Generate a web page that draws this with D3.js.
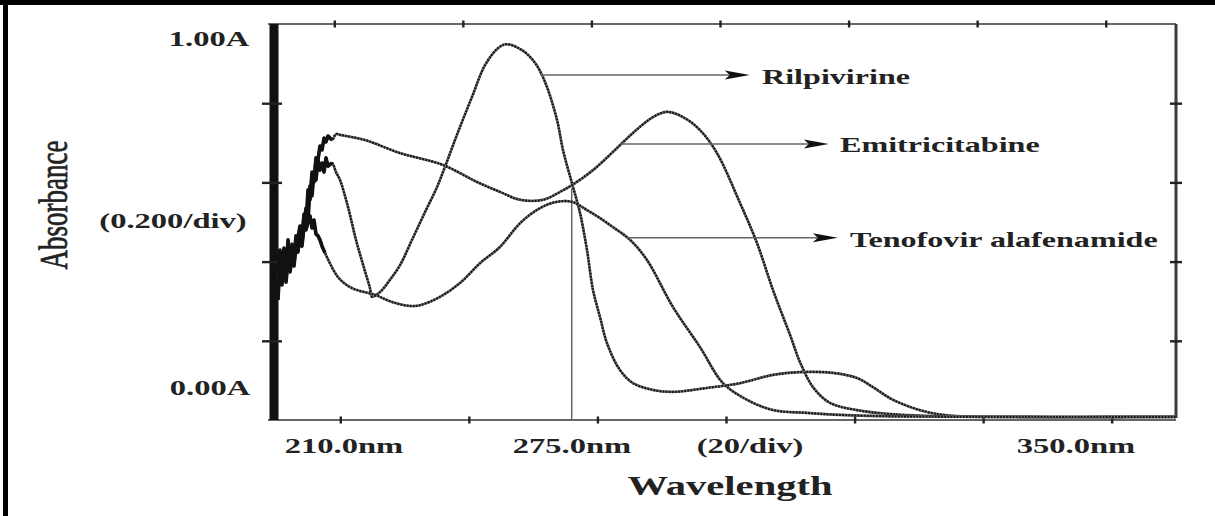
<!DOCTYPE html>
<html>
<head>
<meta charset="utf-8">
<script src="https://cdn.jsdelivr.net/npm/d3@7/dist/d3.min.js"></script>
<style>
  html, body { margin: 0; padding: 0; background: #fff; }
  svg { display: block; }
  text { font-family: "Liberation Serif", "Times New Roman", serif; fill: #222; }
</style>
</head>
<body>
<div id="chart"></div>
<script>
// axis ticks (20 nm / div, 0.200 A / div)
const wlTicks = [200, 220, 240, 260, 280, 300, 320];
const absTicks = [0.2, 0.4, 0.6, 0.8];

// printed tick labels of the instrument plot
const xLabels = ["210.0nm", "275.0nm", "(20/div)", "350.0nm"];
const yLabels = ["1.00A", "(0.200/div)", "0.00A"];

// spectra: [wavelength nm, absorbance]
const rilpivirine = [
    [190.31, 0.354], [190.62, 0.429], [190.93, 0.364], [191.24, 0.409], [191.56, 0.348],
    [191.87, 0.399], [192.18, 0.379], [192.49, 0.444], [192.80, 0.399], [193.11, 0.455],
    [193.42, 0.424], [193.73, 0.475], [194.04, 0.439], [194.36, 0.490], [194.67, 0.535],
    [194.98, 0.500], [195.29, 0.591], [195.60, 0.566], [195.91, 0.626], [196.22, 0.606],
    [196.53, 0.657], [196.84, 0.631], [197.16, 0.649], [197.47, 0.626], [197.78, 0.662],
    [198.09, 0.641], [198.71, 0.649], [199.33, 0.626],
    [199.96, 0.606], [201.20, 0.538], [202.44, 0.455], [203.69, 0.384], [204.62, 0.333],
    [204.93, 0.311], [206.18, 0.323], [207.73, 0.354], [209.29, 0.391], [211.16, 0.455],
    [213.18, 0.525], [215.04, 0.588], [216.44, 0.646], [218.31, 0.727], [220.49, 0.816],
    [222.51, 0.896], [224.53, 0.939], [225.78, 0.949], [228.27, 0.934], [230.29, 0.902],
    [231.84, 0.854], [233.71, 0.758], [234.64, 0.682], [236.04, 0.598], [237.29, 0.523],
    [238.38, 0.429], [239.31, 0.328], [240.40, 0.260], [241.49, 0.194], [243.51, 0.126],
    [245.53, 0.093], [248.64, 0.076], [251.76, 0.071], [257.04, 0.081], [262.18, 0.093],
    [267.31, 0.114], [271.51, 0.121], [276.64, 0.119], [280.38, 0.106], [282.87, 0.083],
    [285.98, 0.051], [291.27, 0.020], [294.84, 0.011], [302.62, 0.008], [330.00, 0.008]
];

const emtricitabine = [
    [190.31, 0.303], [190.62, 0.399], [190.93, 0.341], [191.24, 0.434], [191.56, 0.374],
    [191.87, 0.455], [192.18, 0.389], [192.49, 0.429], [192.80, 0.409], [193.11, 0.465],
    [193.42, 0.439], [193.73, 0.485], [194.04, 0.460], [194.36, 0.520], [194.67, 0.490],
    [194.98, 0.581], [195.29, 0.556], [195.60, 0.626], [195.91, 0.601], [196.22, 0.662],
    [196.53, 0.657], [196.84, 0.692], [197.16, 0.682], [197.47, 0.712], [197.78, 0.702],
    [198.09, 0.717], [198.71, 0.707], [199.33, 0.722],
    [199.96, 0.720], [203.84, 0.707], [209.29, 0.674], [215.98, 0.644], [221.27, 0.601],
    [224.84, 0.576], [227.96, 0.556], [231.53, 0.556], [234.18, 0.576], [236.04, 0.593],
    [239.31, 0.631], [242.42, 0.677], [245.53, 0.725], [248.64, 0.765], [250.82, 0.778],
    [253.31, 0.765], [255.96, 0.732], [258.60, 0.674], [262.18, 0.548], [264.82, 0.447],
    [267.31, 0.328], [269.96, 0.215], [271.51, 0.146], [273.53, 0.083], [276.18, 0.043],
    [280.38, 0.025], [285.51, 0.015], [294.84, 0.009], [330.00, 0.008]
];

const tenofovir = [
    [190.31, 0.328], [190.62, 0.384], [190.93, 0.359], [191.24, 0.414], [191.56, 0.364],
    [191.87, 0.429], [192.18, 0.374], [192.49, 0.409], [192.80, 0.389], [193.11, 0.439],
    [193.42, 0.460], [193.73, 0.490], [194.04, 0.455], [194.36, 0.510], [194.67, 0.480],
    [194.98, 0.500], [195.29, 0.515], [195.60, 0.485], [195.91, 0.505], [196.22, 0.470],
    [196.53, 0.465], [196.84, 0.455], [197.16, 0.439], [197.62, 0.422],
    [199.64, 0.361], [201.82, 0.333], [205.40, 0.316], [208.04, 0.298], [210.84, 0.288],
    [212.40, 0.290], [215.51, 0.311], [218.62, 0.346], [221.73, 0.396], [224.84, 0.437],
    [227.96, 0.497], [231.07, 0.535], [233.71, 0.551], [236.04, 0.551], [238.38, 0.530],
    [240.40, 0.510], [242.42, 0.487], [245.07, 0.455], [247.71, 0.404], [251.76, 0.285],
    [255.96, 0.184], [259.53, 0.093], [263.27, 0.051], [267.31, 0.025], [272.60, 0.018],
    [277.73, 0.013], [287.07, 0.009], [330.00, 0.008]
];

const seriesNames = ["Rilpivirine", "Emitricitabine", "Tenofovir alafenamide"];
const cursorNm = 236;

document.addEventListener('DOMContentLoaded', () => {

    const width = 1215;
    const height = 516;

    const svg = d3.select("#chart").append("svg")
        .attr("width", width)
        .attr("height", height);

    const x = d3.scaleLinear().domain([190, 330]).range([276, 1176]);
    const y = d3.scaleLinear().domain([0, 1]).range([420, 24]);

    // outer frame of the figure (top + left only)
    svg.append("rect").attr("x", 0).attr("y", 0).attr("width", width).attr("height", 5).attr("fill", "#000");
    svg.append("rect").attr("x", 3).attr("y", 0).attr("width", 5).attr("height", height).attr("fill", "#000");

    // plot box
    const frame = svg.append("g").attr("stroke", "#333").attr("fill", "none");
    frame.append("line").attr("x1", 268).attr("x2", x(330)).attr("y1", y(1)).attr("y2", y(1)).attr("stroke-width", 1.6);
    frame.append("line").attr("x1", 268).attr("x2", x(330)).attr("y1", y(0)).attr("y2", y(0)).attr("stroke-width", 1.6);
    frame.append("line").attr("x1", x(330)).attr("x2", x(330)).attr("y1", y(1)).attr("y2", y(0) - 2)
        .attr("stroke-width", 3).attr("stroke", "#3a3a3a");
    // saturated signal at the start of the scan makes the left edge a thick band
    frame.append("line").attr("x1", 274).attr("x2", 274).attr("y1", y(1)).attr("y2", y(0))
        .attr("stroke-width", 9).attr("stroke", "#111");

    // ticks through d3 axes
    const tickAxis = (axis, tx, ty) => {
        const g = svg.append("g").attr("transform", `translate(${tx},${ty})`).call(axis);
        g.select(".domain").remove();
        g.selectAll(".tick text").remove();
        g.selectAll(".tick line").attr("stroke", "#222").attr("stroke-width", 2.4);
        return g;
    };
    tickAxis(d3.axisBottom(x).tickValues(wlTicks).tickSize(7).tickSizeOuter(0), 0, y(0) - 3.5);
    tickAxis(d3.axisBottom(x).tickValues(wlTicks).tickSize(7).tickSizeOuter(0), -6, y(1) - 3.5);
    tickAxis(d3.axisRight(y).tickValues(absTicks).tickSize(12).tickSizeOuter(0), x(330) - 6, 0);
    tickAxis(d3.axisRight(y).tickValues(absTicks).tickSize(20).tickSizeOuter(0), 262, 0);

    // cursor line
    svg.append("line")
        .attr("x1", x(cursorNm)).attr("x2", x(cursorNm))
        .attr("y1", y(0)).attr("y2", y(0.585))
        .attr("stroke", "#666").attr("stroke-width", 1.5);

    // spectra: grey trace with dark grain, like the scanned print
    const line = d3.line()
        .x(d => x(d[0]))
        .y(d => y(d[1]))
        .curve(d3.curveCatmullRom.alpha(0.5));

    const noisy = d3.line()
        .x(d => x(d[0]))
        .y(d => y(d[1]));

    [rilpivirine, emtricitabine, tenofovir].forEach(s => {
        svg.append("path")
            .datum(s)
            .attr("d", line)
            .attr("fill", "none")
            .attr("stroke", "#6e6e6e")
            .attr("stroke-width", 2.6)
            .attr("stroke-linejoin", "round");
        svg.append("path")
            .datum(s)
            .attr("d", line)
            .attr("fill", "none")
            .attr("stroke", "#151515")
            .attr("stroke-width", 2.3)
            .attr("stroke-dasharray", "1.8 1.3")
            .attr("stroke-linejoin", "round");
        // noisy start of the scan prints as a dark blob
        svg.append("path")
            .datum(s.filter(d => d[0] < 199))
            .attr("d", noisy)
            .attr("fill", "none")
            .attr("stroke", "#111")
            .attr("stroke-width", 3.6)
            .attr("stroke-linejoin", "round");
    });

    // text helper: the print is stretched horizontally
    const txt = (s, tx, ty, size, anchor, weight, sx) => svg.append("text")
        .attr("transform", `translate(${tx},${ty}) scale(${sx},1)`)
        .attr("text-anchor", anchor)
        .style("font-size", size + "px")
        .style("font-weight", weight)
        .text(s);

    // arrows to the curve names
    const arrows = [
        { a: 0.871, from: 231.1, to: 263.7, textX: 762, base: 84 },
        { a: 0.697, from: 243.6, to: 276.0, textX: 840, base: 152 },
        { a: 0.460, from: 244.7, to: 277.4, textX: 850, base: 247 }
    ];
    arrows.forEach((ar, i) => {
        const yy = y(ar.a), tip = x(ar.to);
        svg.append("line")
            .attr("x1", x(ar.from)).attr("x2", tip - 20)
            .attr("y1", yy).attr("y2", yy)
            .attr("stroke", "#666").attr("stroke-width", 1.5);
        svg.append("path")
            .attr("d", `M${tip},${yy} L${tip - 25},${yy - 4.5} L${tip - 20},${yy} L${tip - 25},${yy + 4.5} Z`)
            .attr("fill", "#111");
        txt(seriesNames[i], ar.textX, ar.base, 22, "start", "bold", 1.46);
    });

    // axis labels
    txt(yLabels[0], 209, 46, 21, "middle", "bold", 1.55);
    txt(yLabels[1], 173, 228, 21, "middle", "bold", 1.55);
    txt(yLabels[2], 210, 395, 21, "middle", "bold", 1.55);

    [344, 572, 750, 1076].forEach((cx, i) => txt(xLabels[i], cx, 453, 21, "middle", "bold", 1.55));

    txt("Wavelength", 730, 495, 28, "middle", "bold", 1.45);

    svg.append("text")
        .attr("transform", "translate(67,205) scale(1.45,1) rotate(-90)")
        .attr("text-anchor", "middle")
        .style("font-size", "27px")
        .style("stroke", "#222")
        .style("stroke-width", 0.5)
        .text("Absorbance");
});
</script>
</body>
</html>
